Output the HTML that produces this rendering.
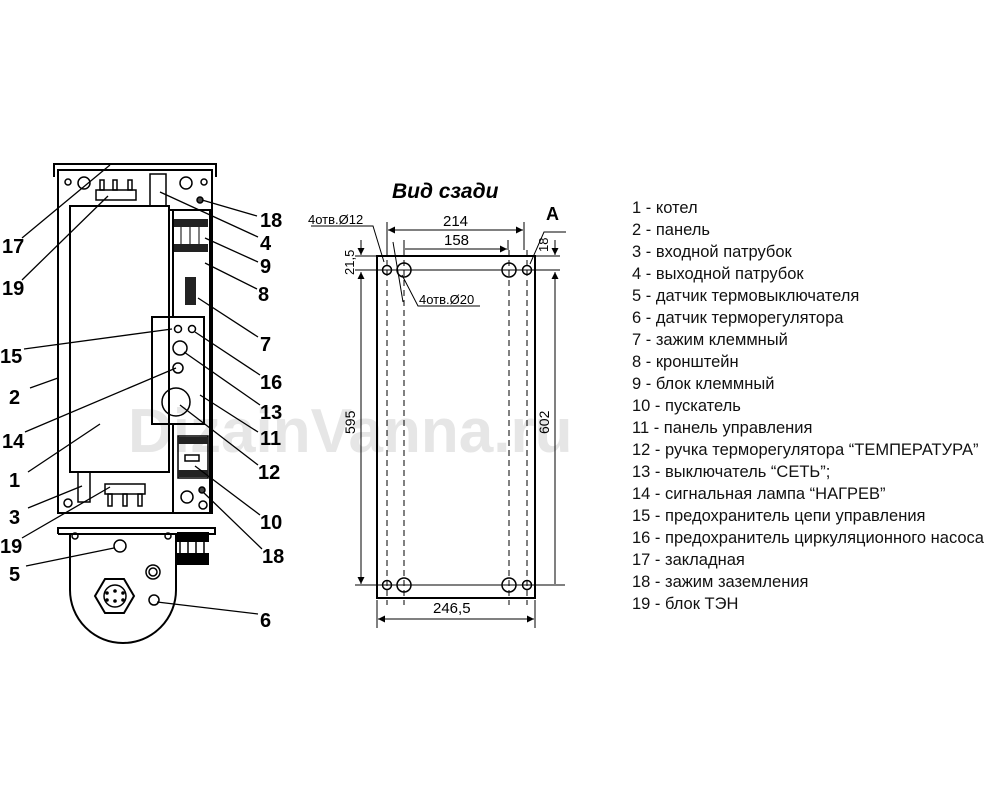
<!DOCTYPE html>
<html><head><meta charset="utf-8"><style>
html,body{margin:0;padding:0;background:#fff}
svg{display:block}
text{font-family:"Liberation Sans",sans-serif}
</style></head><body>
<svg width="1000" height="800" viewBox="0 0 1000 800" xmlns="http://www.w3.org/2000/svg">
<defs>
<marker id="ar" viewBox="0 0 10 10" refX="10" refY="5" markerWidth="10" markerHeight="7" orient="auto-start-reverse" markerUnits="userSpaceOnUse"><path d="M0,0 L10,5 L0,10z" fill="#000"/></marker>
</defs>
<text x="128" y="452" font-size="62" font-weight="bold" fill="#e6e6e6">DizainVanna.ru</text>

<g stroke="#000" stroke-width="2" fill="none">
<path d="M54,177 V164 H216 V177"/>
<rect x="58" y="170" width="154" height="343"/>
<rect x="70" y="206" width="99" height="266"/>
<path d="M169,210 H210 V512"/>
<path d="M173,210 V318"/>
<path d="M173,424 V512"/>
<rect x="152" y="317" width="52" height="107"/>
</g>
<g stroke="#000" stroke-width="1.5" fill="none">
<circle cx="84" cy="183" r="6"/>
<circle cx="186" cy="183" r="6"/>
<circle cx="68" cy="182" r="3"/><circle cx="204" cy="182" r="3"/>
<rect x="96" y="190" width="40" height="10"/>
<rect x="100" y="180" width="4" height="10"/><rect x="113" y="180" width="4" height="10"/><rect x="128" y="180" width="4" height="10"/>
<rect x="150" y="174" width="16" height="32"/>
<circle cx="200" cy="200" r="3" fill="#444"/>
<circle cx="178" cy="329" r="3.5"/><circle cx="192" cy="329" r="3.5"/>
<circle cx="180" cy="348" r="7"/>
<circle cx="178" cy="368" r="5"/>
<circle cx="176" cy="402" r="14"/>
<rect x="78" y="472" width="12" height="30"/>
<rect x="105" y="484" width="40" height="10"/>
<rect x="108" y="494" width="4" height="12"/><rect x="123" y="494" width="4" height="12"/><rect x="138" y="494" width="4" height="12"/>
<circle cx="68" cy="503" r="4"/>
<circle cx="187" cy="497" r="6"/><circle cx="203" cy="505" r="4"/>
<circle cx="202" cy="490" r="3" fill="#444"/>
<rect x="178" y="436" width="30" height="42"/>
<rect x="185" y="455" width="14" height="6"/>
</g>
<g fill="#222">
<rect x="174" y="219" width="34" height="8"/>
<rect x="174" y="244" width="34" height="8"/>
<rect x="185" y="277" width="11" height="28"/>
<rect x="178" y="437" width="30" height="7"/>
<rect x="178" y="470" width="30" height="7"/>
</g>
<g stroke="#000" stroke-width="1" fill="none">
<path d="M181,227 V244 M190,227 V244 M199,227 V244"/>
</g>
<g stroke="#000" stroke-width="2" fill="none">
<path d="M58,534 V528 H215 V534 H58"/>
<path d="M70,534 V590 A53,53 0 0 0 176,590 V534"/>
<polygon points="105,579 124,579 134,596 124,613 105,613 95,596"/>
</g>
<g stroke="#000" stroke-width="1.5" fill="none">
<circle cx="75" cy="536" r="3"/><circle cx="168" cy="536" r="3"/>
<circle cx="120" cy="546" r="6"/>
<circle cx="153" cy="572" r="7"/><circle cx="153" cy="572" r="4"/>
<circle cx="154" cy="600" r="5"/>
<circle cx="115" cy="596" r="11"/>
</g>
<g fill="#000">
<circle cx="115" cy="591" r="1.8"/><circle cx="115" cy="601" r="1.8"/><circle cx="107" cy="593" r="1.8"/><circle cx="123" cy="593" r="1.8"/><circle cx="107" cy="600" r="1.8"/><circle cx="123" cy="600" r="1.8"/>
<rect x="177" y="532" width="32" height="10"/>
<rect x="177" y="553" width="32" height="12"/>
</g>
<g stroke="#000" stroke-width="1.5"><path d="M180,542V553 M188,542V553 M196,542V553 M204,542V553"/></g>

<g stroke="#000" stroke-width="1.3">
<line x1="110" y1="165" x2="22" y2="238"/>
<line x1="108" y1="196" x2="22" y2="280"/>
<line x1="172" y1="329" x2="24" y2="349"/>
<line x1="58" y1="378" x2="30" y2="388"/>
<line x1="176" y1="368" x2="25" y2="432"/>
<line x1="100" y1="424" x2="28" y2="472"/>
<line x1="82" y1="486" x2="28" y2="508"/>
<line x1="110" y1="487" x2="22" y2="538"/>
<line x1="114" y1="548" x2="26" y2="566"/>
<line x1="202" y1="200" x2="257" y2="216"/>
<line x1="160" y1="192" x2="258" y2="237"/>
<line x1="205" y1="238" x2="258" y2="262"/>
<line x1="205" y1="263" x2="257" y2="289"/>
<line x1="198" y1="298" x2="258" y2="337"/>
<line x1="195" y1="332" x2="260" y2="375"/>
<line x1="184" y1="352" x2="260" y2="405"/>
<line x1="200" y1="395" x2="258" y2="432"/>
<line x1="180" y1="405" x2="258" y2="465"/>
<line x1="195" y1="466" x2="260" y2="515"/>
<line x1="203" y1="492" x2="262" y2="549"/>
<line x1="157" y1="602" x2="258" y2="614"/>
</g>
<g font-size="20" font-weight="bold" fill="#000">
<text x="260" y="227">18</text><text x="260" y="250">4</text><text x="260" y="273">9</text><text x="258" y="301">8</text>
<text x="260" y="351">7</text><text x="260" y="389">16</text><text x="260" y="419">13</text><text x="260" y="445">11</text>
<text x="258" y="479">12</text><text x="260" y="529">10</text><text x="262" y="563">18</text><text x="260" y="627">6</text>
<text x="2" y="253">17</text><text x="2" y="295">19</text><text x="0" y="363">15</text><text x="9" y="404">2</text>
<text x="2" y="448">14</text><text x="9" y="487">1</text><text x="9" y="524">3</text><text x="0" y="553">19</text><text x="9" y="581">5</text>
</g>

<text x="392" y="198" font-size="21" font-weight="bold" font-style="italic">Вид сзади</text>
<g stroke="#000" fill="none">
<rect x="377" y="256" width="158" height="342" stroke-width="2"/>
<line x1="355" y1="256" x2="560" y2="256" stroke-width="1"/>
<line x1="355" y1="270" x2="560" y2="270" stroke-width="1"/>
<line x1="355" y1="585" x2="565" y2="585" stroke-width="1"/>
<g stroke-width="1" stroke-dasharray="6,4">
<line x1="387" y1="250" x2="387" y2="605"/><line x1="404" y1="250" x2="404" y2="605"/>
<line x1="509" y1="250" x2="509" y2="605"/><line x1="527" y1="250" x2="527" y2="605"/>
</g>
<g stroke-width="1.5">
<circle cx="387" cy="270" r="4.5"/><circle cx="404" cy="270" r="7"/><circle cx="509" cy="270" r="7"/><circle cx="527" cy="270" r="4.5"/>
<circle cx="387" cy="585" r="4.5"/><circle cx="404" cy="585" r="7"/><circle cx="509" cy="585" r="7"/><circle cx="527" cy="585" r="4.5"/>
</g>
<g stroke-width="1">
<line x1="387" y1="222" x2="387" y2="250"/><line x1="524" y1="222" x2="524" y2="250"/>
<line x1="404" y1="240" x2="404" y2="250"/><line x1="508" y1="240" x2="508" y2="250"/>
<line x1="388" y1="230" x2="523" y2="230" marker-start="url(#ar)" marker-end="url(#ar)"/>
<line x1="405" y1="249" x2="507" y2="249" marker-end="url(#ar)"/>
<line x1="377" y1="600" x2="377" y2="628"/><line x1="535" y1="600" x2="535" y2="628"/>
<line x1="378" y1="619" x2="534" y2="619" marker-start="url(#ar)" marker-end="url(#ar)"/>
<line x1="361" y1="272" x2="361" y2="584" marker-start="url(#ar)" marker-end="url(#ar)"/>
<line x1="361" y1="240" x2="361" y2="255" marker-end="url(#ar)"/>
<line x1="555" y1="272" x2="555" y2="584" marker-start="url(#ar)"/>
<line x1="555" y1="240" x2="555" y2="255" marker-end="url(#ar)"/>
<path d="M311,226 H373 L384,262"/>
<line x1="393" y1="242" x2="403" y2="302"/>
<path d="M402,275 L418,306 H480"/>
<path d="M530,264 L544,232 H566"/>
</g>
</g>
<g font-size="13" fill="#000">
<text x="308" y="224">4отв.Ø12</text>
<text x="419" y="304">4отв.Ø20</text>
<text x="443" y="226" font-size="15">214</text>
<text x="444" y="245" font-size="15">158</text>
<text x="433" y="613" font-size="15">246,5</text>
<text x="546" y="220" font-size="18" font-weight="bold">A</text>
<text transform="translate(354,275) rotate(-90)" font-size="13">21,5</text>
<text transform="translate(548,252) rotate(-90)" font-size="13">18</text>
<text transform="translate(355,434) rotate(-90)" font-size="14">595</text>
<text transform="translate(549,434) rotate(-90)" font-size="14">602</text>
</g>

<g font-size="16.5" fill="#111">
<text x="632" y="213">1 - котел</text>
<text x="632" y="235">2 - панель</text>
<text x="632" y="257">3 - входной патрубок</text>
<text x="632" y="279">4 - выходной патрубок</text>
<text x="632" y="301">5 - датчик термовыключателя</text>
<text x="632" y="323">6 - датчик терморегулятора</text>
<text x="632" y="345">7 - зажим клеммный</text>
<text x="632" y="367">8 - кронштейн</text>
<text x="632" y="389">9 - блок клеммный</text>
<text x="632" y="411">10 - пускатель</text>
<text x="632" y="433">11 - панель управления</text>
<text x="632" y="455">12 - ручка терморегулятора “ТЕМПЕРАТУРА”</text>
<text x="632" y="477">13 - выключатель “СЕТЬ”;</text>
<text x="632" y="499">14 - сигнальная лампа “НАГРЕВ”</text>
<text x="632" y="521">15 - предохранитель цепи управления</text>
<text x="632" y="543">16 - предохранитель циркуляционного насоса</text>
<text x="632" y="565">17 - закладная</text>
<text x="632" y="587">18 - зажим заземления</text>
<text x="632" y="609">19 - блок ТЭН</text>
</g>
</svg>
</body></html>
